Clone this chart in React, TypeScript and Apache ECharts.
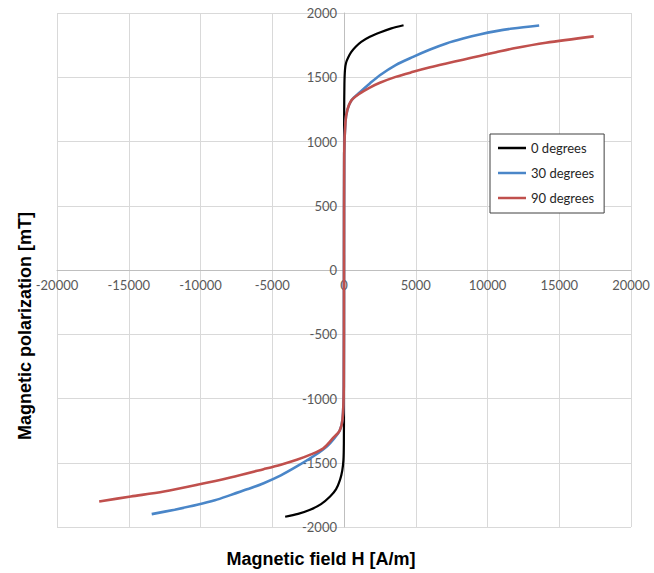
import React, { useEffect, useRef } from "react";
import * as echarts from "echarts";

const seriesNames = ["0 degrees", "30 degrees", "90 degrees"];
const seriesColors = ["#000000", "#4a86c8", "#c0504d"];

// [H (A/m), J (mT)]
const deg0: number[][] = [
  [-4100, -1920], [-3200, -1898], [-2360, -1866], [-1600, -1822], [-970, -1763],
  [-550, -1705], [-278, -1633], [-120, -1560], [-40, -1480], [-10, -1350],
  [0, -1000], [0, 0], [3, 800], [10, 1200], [30, 1450], [70, 1560], [150, 1615],
  [300, 1655], [500, 1695], [800, 1735], [1200, 1775], [1800, 1815], [2500, 1848],
  [3300, 1880], [4150, 1905],
];

const deg30: number[][] = [
  [-13400, -1900], [-11800, -1865], [-10230, -1827], [-9000, -1792], [-7920, -1752],
  [-6700, -1705], [-5600, -1659], [-4400, -1598], [-3290, -1529], [-2000, -1440],
  [-1200, -1374], [-640, -1305], [-300, -1250], [-100, -1160], [-15, -900], [0, 0],
  [15, 900], [100, 1150], [230, 1244], [530, 1322], [1111, 1384], [1800, 1452],
  [2500, 1516], [3600, 1595], [4815, 1659], [6000, 1716], [7130, 1763],
  [8300, 1801], [9444, 1833], [10600, 1859], [11760, 1879], [13600, 1903],
];

const deg90: number[][] = [
  [-17060, -1801], [-14860, -1763], [-12550, -1724], [-10230, -1672], [-7920, -1615],
  [-5600, -1550], [-4400, -1515], [-3290, -1477], [-2300, -1435], [-1435, -1387],
  [-740, -1305], [-300, -1250], [-100, -1160], [-15, -900], [0, 0], [15, 900],
  [100, 1150], [230, 1244], [530, 1322], [1111, 1374], [1800, 1420], [2500, 1457],
  [3600, 1503], [4815, 1542], [6000, 1577], [7130, 1607], [8300, 1637],
  [9444, 1666], [10600, 1695], [11760, 1723], [14070, 1768], [17400, 1818],
];

const seriesData = [deg0, deg30, deg90];

const xMin = -20000, xMax = 20000, xStep = 5000;
const yMin = -2000, yMax = 2000, yStep = 500;

export default function App() {
  const ref = useRef<HTMLDivElement>(null);
  useEffect(() => {
    if (!ref.current) return;
    const chart = echarts.init(ref.current, null, { renderer: "svg" });
    const font = "Lato, 'Liberation Sans', sans-serif";
    const titleFont = "'Liberation Sans', Arial, sans-serif";
    const gridLeft = 57, gridRight = 23, gridTop = 13, gridBottom = 46;
    const plotW = 654 - gridLeft - gridRight;
    const plotH = 573 - gridTop - gridBottom;
    const zeroXOffset = -plotW * ((0 - xMin) / (xMax - xMin));
    const zeroYOffset = -plotH * ((0 - yMin) / (yMax - yMin));
    chart.setOption({
      animation: false,
      backgroundColor: "#ffffff",
      textStyle: { fontFamily: font },
      grid: { left: gridLeft, right: gridRight, top: gridTop, bottom: gridBottom, containLabel: false },
      xAxis: {
        type: "value",
        position: "bottom",
        offset: zeroYOffset,
        min: xMin, max: xMax, interval: xStep,
        axisLine: { show: true, onZero: false, lineStyle: { color: "#bfbfbf", width: 1 } },
        axisTick: { show: false },
        axisLabel: { color: "#595959", fontSize: 13, margin: 8, fontFamily: font, formatter: (v: number) => String(v) },
        splitLine: { show: true, lineStyle: { color: "#d9d9d9", width: 1 } },
      },
      yAxis: {
        type: "value",
        position: "left",
        offset: zeroXOffset,
        min: yMin, max: yMax, interval: yStep,
        axisLine: { show: true, onZero: false, lineStyle: { color: "#bfbfbf", width: 1 } },
        axisTick: { show: false },
        axisLabel: { color: "#595959", fontSize: 13, margin: 7, fontFamily: font, formatter: (v: number) => String(v) },
        splitLine: { show: true, lineStyle: { color: "#d9d9d9", width: 1 } },
      },
      legend: {
        orient: "vertical",
        left: 490, top: 134,
        padding: [7, 10, 8, 8],
        itemGap: 11,
        icon: "rect",
        itemWidth: 28, itemHeight: 2.5,
        borderColor: "#404040", borderWidth: 1,
        backgroundColor: "#ffffff",
        textStyle: { color: "#262626", fontSize: 13, fontFamily: font, height: 14, lineHeight: 14 },
        data: seriesNames,
      },
      graphic: [
        {
          type: "text",
          x: 321, y: 559,
          style: {
            text: "Magnetic field H [A/m]",
            font: `bold 18px ${titleFont}`,
            fill: "#000000",
            align: "center",
            verticalAlign: "middle",
          },
        },
        {
          type: "text",
          x: 25, y: 326,
          rotation: Math.PI / 2,
          style: {
            text: "Magnetic polarization [mT]",
            font: `bold 18px ${titleFont}`,
            fill: "#000000",
            align: "center",
            verticalAlign: "middle",
          },
        },
      ],
      series: seriesNames.map((name, i) => ({
        name,
        type: "line",
        data: seriesData[i],
        smooth: 0.3,
        showSymbol: false,
        symbol: "none",
        z: i === 0 ? 2 : i === 1 ? 3 : 4,
        lineStyle: { color: seriesColors[i], width: i === 0 ? 2.2 : 2.6 },
        itemStyle: { color: seriesColors[i] },
      })),
    });
    return () => chart.dispose();
  }, []);
  return <div ref={ref} style={{ width: 654, height: 573, position: "absolute", left: 0, top: 0 }} />;
}
